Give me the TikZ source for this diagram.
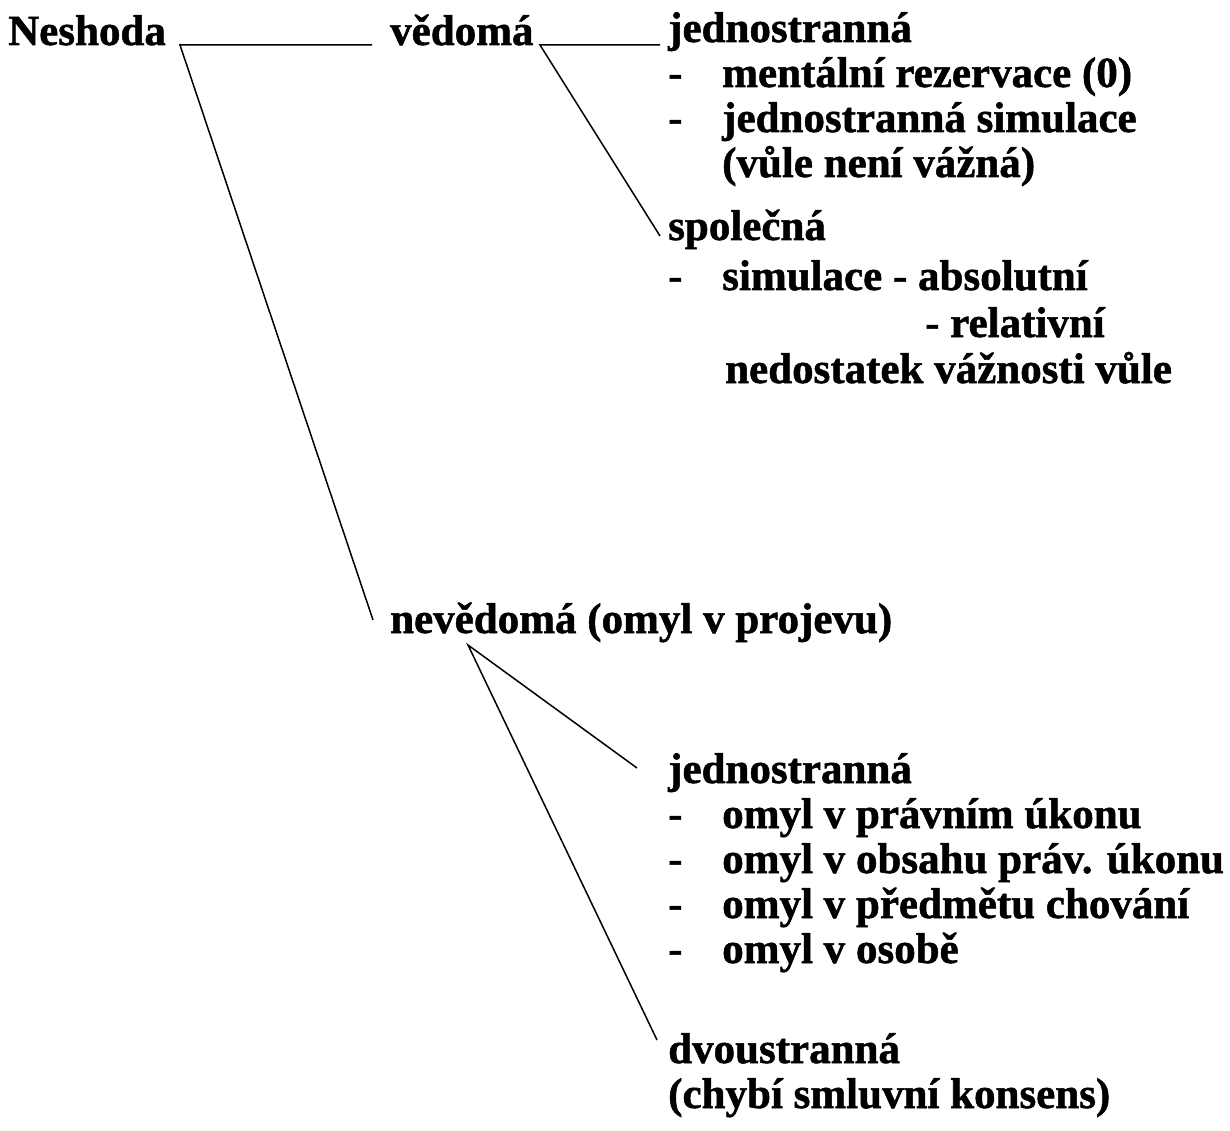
\documentclass[tikz,border=0pt]{standalone}
\usepackage{fontspec}
\setmainfont{Liberation Serif}[BoldFont={Liberation Serif Bold}]
\newfontfamily\tnrbold{Liberation Serif Bold}[FakeBold=1.2]
\begin{document}
\begin{tikzpicture}[x=1pt,y=-1pt,
  txt/.style={anchor=base west,inner sep=0pt,font=\fontsize{43}{45}\selectfont\tnrbold},
  conn/.style={line width=1.5pt,black}]
\useasboundingbox (0,0) rectangle (1230,1131);
% top level
\node[txt] (neshoda) at (8,45) {Neshoda};
\node[txt] (vedoma) at (390,45) {vědomá};
\node[txt] (jedn1) at (668,42) {jednostranná};
\node[txt] (d1) at (668,87) {-};
\node[txt] (t1) at (722,87) {mentální rezervace (0)};
\node[txt] (d2) at (668,132) {-};
\node[txt] (t2) at (722,132) {jednostranná simulace};
\node[txt] (t3) at (722,177) {(vůle není vážná)};
\node[txt] (spol) at (668,240) {společná};
\node[txt] (d3) at (668,290) {-};
\node[txt] (t4) at (722,290) {simulace - absolutní};
\node[txt] (t5) at (925,337) {- relativní};
\node[txt] (t6) at (725,383) {nedostatek vážnosti vůle};
% lower part
\node[txt] (nevedoma) at (390,633) {nevědomá (omyl v projevu)};
\node[txt] (jedn2) at (668,783) {jednostranná};
\node[txt] (d4) at (668,828) {-};
\node[txt] (u1) at (722,828) {omyl v právním úkonu};
\node[txt] (d5) at (668,873) {-};
\node[txt] (u2) at (722,873) {omyl v obsahu práv. úkonu};
\node[txt] (d6) at (668,918) {-};
\node[txt] (u3) at (722,918) {omyl v předmětu chování};
\node[txt] (d7) at (668,963) {-};
\node[txt] (u4) at (722,963) {omyl v osobě};
\node[txt] (dvou) at (668,1063) {dvoustranná};
\node[txt] (chybi) at (668,1108) {(chybí smluvní konsens)};
% connector points
\coordinate (a1) at (180,45);
\coordinate (a2) at (372,45);
\coordinate (a3) at (373,620);
\coordinate (b1) at (540,45);
\coordinate (b2) at (660,45);
\coordinate (b3) at (660,236);
\coordinate (c1) at (468,645);
\coordinate (c2) at (637,768);
\coordinate (c3) at (657,1040);
% connectors
\draw[conn] (a2) -- (a1) -- (a3);
\draw[conn] (b2) -- (b1) -- (b3);
\draw[conn] (c2) -- (c1) -- (c3);
\end{tikzpicture}
\end{document}
